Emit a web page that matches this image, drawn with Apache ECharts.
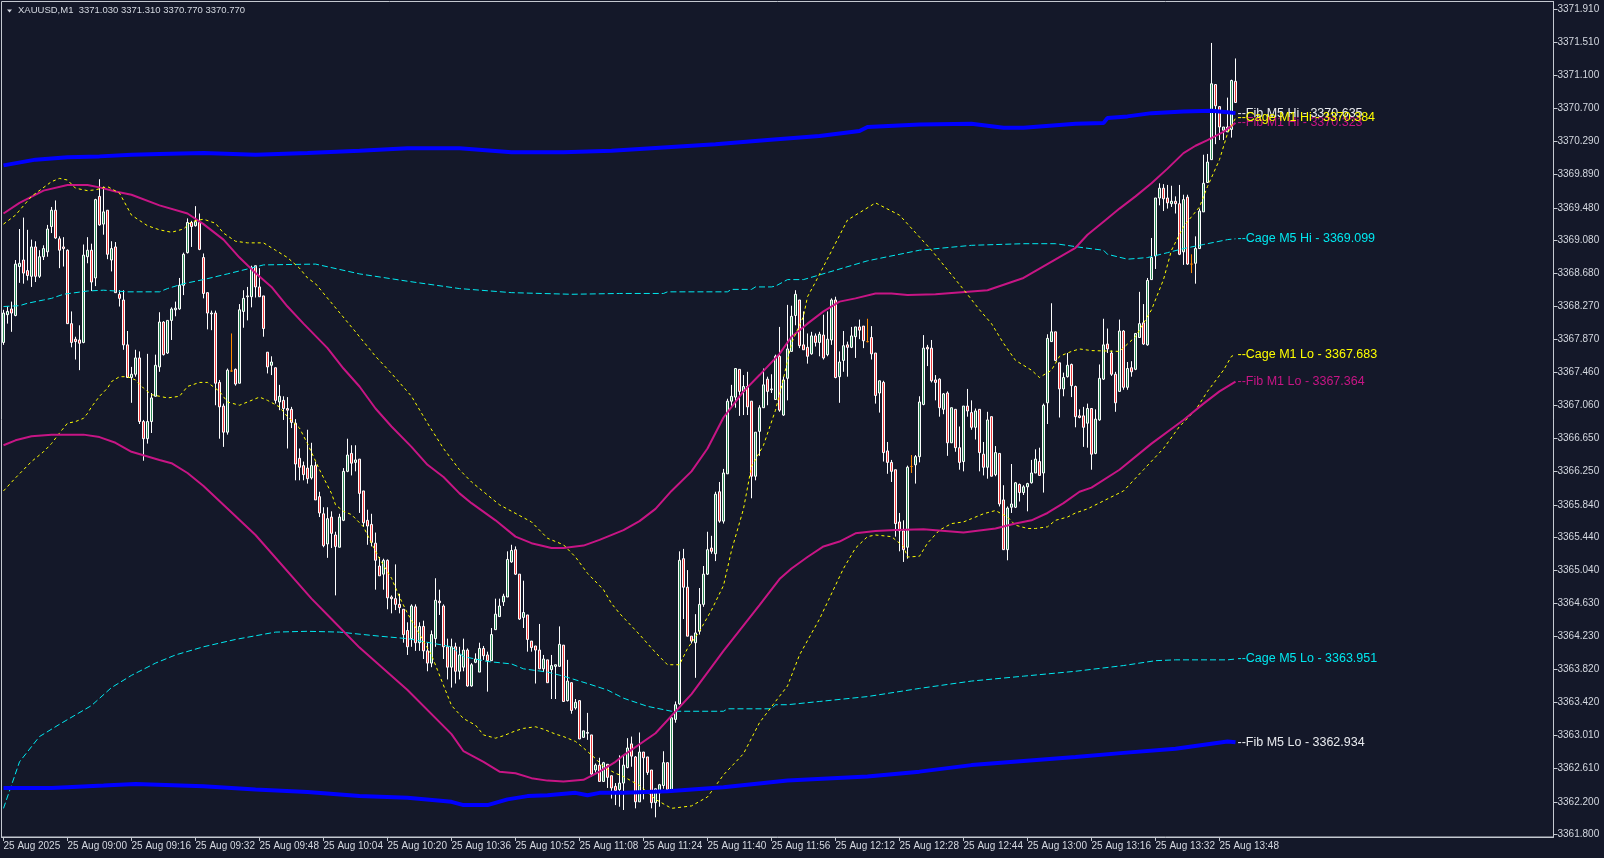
<!DOCTYPE html>
<html><head><meta charset="utf-8">
<script src="https://cdn.jsdelivr.net/npm/echarts@6/dist/echarts.min.js"></script>
<style>html,body{margin:0;padding:0;background:#141829;}#c{width:1604px;height:858px;}</style>
</head><body><div id="c"></div><script>
const FONT = '"Liberation Sans", Arial, sans-serif';
const BG = '#141829';
const FRAME = '#c4c8d0';
const TEXT = '#d4d8e0';
const BULL = '#2e8b57';
const BEAR = '#f03c3c';
const DOJI = '#ff8c00';

const titleText = 'XAUUSD,M1  3371.030 3371.310 3370.770 3370.770';
const slotCount = 388;
const xTickEvery = 16;
const xTickLabels = ['25 Aug 2025','25 Aug 09:00','25 Aug 09:16','25 Aug 09:32','25 Aug 09:48','25 Aug 10:04','25 Aug 10:20','25 Aug 10:36','25 Aug 10:52','25 Aug 11:08','25 Aug 11:24','25 Aug 11:40','25 Aug 11:56','25 Aug 12:12','25 Aug 12:28','25 Aug 12:44','25 Aug 13:00','25 Aug 13:16','25 Aug 13:32','25 Aug 13:48'];
const yTickLabels = ['3371.910','3371.510','3371.100','3370.700','3370.290','3369.890','3369.480','3369.080','3368.680','3368.270','3367.870','3367.460','3367.060','3366.650','3366.250','3365.840','3365.440','3365.040','3364.630','3364.230','3363.820','3363.420','3363.010','3362.610','3362.200','3361.800'];
const yMin = 3361.769, yMax = 3372.008;

const openP = [
3367.83,3368.17,3368.24,3368.16,3368.76,3368.84,3368.71,3368.64,3369.00,3368.64,
3368.88,3368.94,3369.25,3369.45,3369.10,3369.00,3368.96,3368.06,3367.87,3367.86,
3367.83,3368.88,3368.96,3368.62,3369.62,3369.28,3369.45,3368.84,3369.00,3368.42,
3368.35,3367.80,3367.40,3367.44,3367.64,3366.86,3366.65,3366.86,3367.17,3367.53,
3368.08,3367.70,3368.10,3368.23,3368.24,3368.53,3368.93,3369.30,3369.26,3369.30,
3368.87,3368.44,3368.18,3368.19,3367.34,3367.05,3366.73,3367.48,3367.50,3367.33,
3368.21,3368.39,3368.39,3368.77,3368.51,3368.40,3367.71,3367.55,3367.52,3367.10,
3367.12,3367.02,3367.01,3366.84,3366.41,3366.32,3366.29,3366.17,3366.32,3365.94,
3365.73,3365.36,3365.69,3365.47,3365.32,3365.65,3366.25,3366.47,3366.36,3366.40,
3366.01,3365.65,3365.60,3365.37,3365.09,3364.99,3365.16,3364.71,3364.69,3364.62,
3364.56,3364.30,3364.20,3364.59,3364.15,3364.35,3364.05,3363.90,3364.20,3364.66,
3364.60,3364.10,3363.85,3364.10,3363.80,3363.85,3364.06,3363.62,3363.91,3363.79,
3364.08,3364.00,3363.93,3364.31,3364.47,3364.65,3364.71,3365.14,3365.29,3364.99,
3364.46,3364.49,3364.17,3364.11,3364.06,3363.83,3363.94,3363.82,3363.86,3363.86,
3364.12,3363.44,3363.66,3363.35,3363.44,3362.99,3363.04,3363.02,3362.59,3362.65,
3362.45,3362.66,3362.52,3362.39,3362.35,3362.43,3362.62,3362.91,3362.75,3362.20,
3362.81,3362.75,3362.59,3362.19,3362.31,3362.40,3362.68,3362.35,3363.21,3363.40,
3365.18,3364.83,3364.23,3364.15,3364.29,3364.62,3364.99,3365.31,3365.24,3366.00,
3365.64,3366.22,3367.11,3367.16,3367.50,3367.23,3367.29,3367.11,3366.19,3366.74,
3367.03,3367.38,3367.25,3367.13,3367.66,3366.94,3367.39,3367.72,3368.16,3368.35,
3367.80,3367.77,3367.69,3367.91,3367.83,3367.92,3367.68,3367.86,3368.35,3367.41,
3367.61,3367.80,3367.77,3367.90,3368.02,3368.03,3367.84,3367.89,3367.70,3367.21,
3367.34,3366.50,3366.36,3366.27,3365.63,3365.52,3365.32,3366.31,3366.33,3366.43,
3367.07,3367.77,3367.76,3367.37,3367.38,3367.01,3367.21,3366.60,3367.01,3366.54,
3366.37,3367.05,3366.97,3366.79,3367.01,3366.46,3366.30,3366.92,3366.21,3366.47,
3365.90,3365.29,3365.81,3365.81,3366.09,3365.99,3366.06,3366.11,3366.23,3366.37,
3366.23,3367.09,3367.84,3367.96,3367.58,3367.26,3367.41,3367.56,3367.29,3366.93,
3366.93,3366.84,3367.02,3366.47,3366.88,3367.38,3367.81,3367.70,3367.44,3367.23,
3367.97,3367.28,3367.52,3367.50,3367.89,3368.07,3367.80,3368.60,3368.89,3369.60,
3369.72,3369.60,3369.53,3369.56,3369.53,3368.94,3369.61,3368.79,3368.80,3368.98,
3369.43,3369.79,3370.07,3370.99,3370.72,3370.43,3370.41,3370.44,3371.03];

const highP = [
3368.23,3368.27,3368.33,3368.84,3369.22,3369.36,3369.21,3369.09,3369.07,3368.96,
3369.02,3369.27,3369.49,3369.57,3369.13,3369.12,3368.97,3368.21,3367.90,3368.04,
3369.03,3369.12,3369.04,3369.59,3369.83,3369.74,3369.45,3369.07,3369.06,3368.47,
3368.47,3367.97,3367.53,3367.74,3367.72,3366.88,3367.69,3367.21,3367.68,3368.20,
3368.09,3368.10,3368.26,3368.33,3368.62,3368.93,3369.35,3369.32,3369.50,3369.41,
3368.92,3368.44,3368.22,3368.22,3367.37,3367.08,3367.51,3367.94,3367.51,3368.30,
3368.47,3368.51,3368.77,3368.77,3368.74,3368.40,3367.71,3367.66,3367.52,3367.31,
3367.17,3367.16,3367.04,3366.89,3366.53,3366.37,3366.76,3366.60,3366.37,3366.00,
3365.81,3365.81,3365.76,3365.51,3365.73,3366.29,3366.65,3366.57,3366.57,3366.40,
3366.01,3365.78,3365.73,3365.50,3365.20,3365.18,3365.17,3364.73,3365.11,3364.75,
3364.56,3364.40,3364.62,3364.62,3364.40,3364.42,3364.15,3364.30,3364.94,3364.80,
3364.62,3364.20,3364.20,3364.15,3364.10,3364.20,3364.08,3363.90,3364.02,3364.15,
3364.11,3364.04,3364.33,3364.69,3364.69,3364.75,3365.27,3365.35,3365.33,3364.99,
3364.91,3364.49,3364.17,3364.11,3364.38,3364.00,3363.94,3364.00,3363.88,3364.35,
3364.12,3363.94,3363.66,3363.46,3363.44,3363.07,3363.29,3363.02,3362.67,3362.74,
3362.69,3362.66,3362.52,3362.43,3362.77,3362.77,3362.98,3363.00,3362.76,3363.05,
3362.81,3362.75,3362.59,3362.36,3362.42,3362.82,3362.68,3363.25,3363.43,3365.27,
3365.30,3365.04,3364.23,3364.50,3364.82,3365.09,3365.51,3365.46,3366.00,3366.12,
3366.28,3367.14,3367.31,3367.51,3367.50,3367.43,3367.47,3367.11,3366.73,3367.06,
3367.51,3367.41,3367.44,3367.68,3368.02,3367.41,3368.29,3368.28,3368.47,3368.35,
3368.21,3367.94,3367.96,3367.94,3367.96,3368.17,3368.21,3368.37,3368.39,3367.72,
3367.97,3367.84,3368.02,3368.02,3368.11,3368.03,3368.12,3368.03,3367.70,3367.36,
3367.36,3366.61,3366.39,3366.27,3365.74,3365.65,3366.32,3366.45,3366.45,3367.17,
3367.92,3367.80,3367.86,3367.43,3367.39,3367.21,3367.23,3367.03,3367.01,3366.80,
3367.05,3367.26,3367.12,3367.02,3367.01,3366.61,3366.98,3366.92,3366.56,3366.47,
3366.08,3365.82,3366.34,3366.12,3366.10,3366.08,3366.11,3366.39,3366.52,3366.54,
3367.08,3367.93,3368.31,3367.96,3367.58,3367.46,3367.70,3367.57,3367.30,3367.01,
3367.04,3367.08,3367.02,3367.01,3367.56,3368.12,3368.00,3367.73,3367.47,3368.11,
3367.98,3367.59,3367.60,3367.94,3368.45,3368.30,3368.62,3369.11,3369.60,3369.78,
3369.77,3369.76,3369.75,3369.62,3369.76,3369.64,3369.64,3368.91,3369.13,3369.47,
3370.13,3370.14,3371.50,3370.99,3370.72,3370.47,3370.83,3371.05,3371.31];

const lowP = [
3367.80,3368.06,3367.96,3368.15,3368.56,3368.55,3368.59,3368.51,3368.57,3368.62,
3368.84,3368.88,3369.17,3369.10,3368.74,3368.76,3368.06,3367.77,3367.62,3367.49,
3367.82,3368.80,3368.46,3368.52,3369.26,3369.15,3368.85,3368.70,3368.44,3368.27,
3367.74,3367.40,3367.09,3367.41,3366.83,3366.38,3366.59,3366.72,3367.17,3367.47,
3367.67,3367.69,3367.86,3368.15,3368.23,3368.41,3368.92,3369.00,3369.25,3368.96,
3368.37,3367.99,3367.98,3367.06,3366.65,3366.55,3366.70,3367.47,3367.30,3367.33,
3368.01,3368.10,3368.26,3368.38,3368.39,3367.90,3367.45,3367.43,3367.08,3367.00,
3366.88,3366.53,3366.78,3366.14,3366.14,3366.14,3366.10,3366.15,3365.90,3365.69,
3365.32,3365.19,3365.31,3364.73,3365.32,3365.64,3366.24,3366.20,3366.25,3365.74,
3365.57,3365.35,3365.33,3364.80,3364.97,3364.80,3364.56,3364.51,3364.55,3364.51,
3364.15,3364.00,3364.10,3364.05,3364.05,3363.95,3363.80,3363.85,3364.10,3364.49,
3363.95,3363.70,3363.60,3363.65,3363.70,3363.80,3363.61,3363.61,3363.90,3363.79,
3363.94,3363.55,3363.93,3364.31,3364.47,3364.60,3364.71,3365.13,3364.98,3364.43,
3364.33,3364.04,3364.04,3363.65,3363.83,3363.79,3363.66,3363.46,3363.46,3363.86,
3363.43,3363.43,3363.28,3363.33,3362.97,3362.99,3362.96,3362.51,3362.56,3362.45,
3362.45,3362.37,3362.24,3362.16,3362.14,3362.10,3362.61,3362.63,3362.12,3362.20,
3362.23,3362.53,3362.12,3362.01,3362.14,3362.36,3362.32,3362.35,3363.17,3363.39,
3364.44,3364.23,3364.14,3363.72,3364.25,3364.59,3364.98,3365.24,3365.15,3365.62,
3365.61,3366.22,3367.04,3367.03,3366.93,3366.94,3366.94,3365.92,3366.14,3366.44,
3367.03,3367.06,3367.21,3367.13,3366.98,3366.93,3367.12,3367.72,3368.04,3367.76,
3367.74,3367.57,3367.68,3367.78,3367.66,3367.62,3367.66,3367.80,3367.39,3367.09,
3367.47,3367.41,3367.76,3367.64,3367.87,3367.76,3367.83,3367.62,3367.08,3366.97,
3366.37,3366.22,3366.12,3365.45,3365.27,3365.14,3365.18,3366.23,3366.10,3366.36,
3367.06,3367.54,3367.34,3367.12,3366.92,3366.95,3366.44,3366.60,3366.49,3366.27,
3366.25,3366.92,3366.76,3366.64,3366.25,3366.20,3366.16,3366.19,3366.19,3365.82,
3365.29,3365.16,3365.74,3365.80,3365.88,3365.96,3365.76,3366.10,3366.23,3366.20,
3365.99,3366.83,3367.84,3367.60,3366.91,3367.17,3367.40,3367.16,3366.79,3366.90,
3366.55,3366.54,3366.27,3366.46,3366.87,3367.37,3367.70,3367.42,3366.98,3367.23,
3367.25,3367.25,3367.41,3367.49,3367.89,3367.80,3367.79,3368.60,3368.73,3369.51,
3369.44,3369.47,3369.49,3369.41,3368.90,3368.78,3368.78,3368.68,3368.55,3368.98,
3369.43,3369.79,3370.07,3370.26,3370.31,3370.31,3370.41,3370.34,3370.77];

const closeP = [
3368.19,3368.21,3368.19,3368.79,3368.80,3368.68,3368.65,3369.00,3368.64,3368.88,
3368.98,3369.22,3369.45,3369.11,3368.96,3368.98,3368.06,3367.83,3367.84,3367.82,
3368.90,3368.96,3368.57,3369.58,3369.27,3369.43,3368.91,3368.98,3368.44,3368.37,
3367.80,3367.40,3367.44,3367.64,3366.86,3366.65,3366.86,3367.15,3367.55,3368.08,
3367.68,3368.10,3368.24,3368.25,3368.53,3368.91,3369.30,3369.25,3369.31,3368.97,
3368.43,3368.19,3368.19,3367.33,3367.04,3366.73,3367.49,3367.48,3367.32,3368.23,
3368.37,3368.40,3368.75,3368.51,3368.39,3368.00,3367.53,3367.59,3367.12,3367.17,
3367.02,3367.00,3366.85,3366.34,3366.30,3366.21,3366.16,3366.32,3365.90,3365.74,
3365.34,3365.67,3365.49,3365.33,3365.69,3366.25,3366.45,3366.35,3366.39,3365.98,
3365.62,3365.58,3365.38,3365.16,3364.97,3365.16,3364.70,3364.69,3364.62,3364.58,
3364.25,3364.10,3364.60,3364.15,3364.35,3364.05,3363.90,3364.25,3364.67,3364.64,
3364.10,3363.85,3364.10,3363.80,3364.00,3364.06,3363.62,3363.88,3363.95,3364.08,
3363.99,3363.93,3364.25,3364.50,3364.60,3364.72,3365.17,3365.28,3364.99,3364.44,
3364.52,3364.19,3364.09,3364.06,3363.83,3363.95,3363.66,3363.87,3363.88,3364.13,
3363.43,3363.68,3363.32,3363.42,3362.97,3363.07,3363.05,3362.54,3362.65,3362.45,
3362.68,3362.50,3362.37,3362.34,3362.43,3362.65,3362.86,3362.76,3362.20,3362.81,
3362.74,3362.56,3362.19,3362.36,3362.41,3362.68,3362.35,3363.23,3363.39,3365.16,
3364.83,3364.23,3364.17,3364.27,3364.62,3364.99,3365.29,3365.27,3365.97,3365.64,
3366.23,3367.11,3367.17,3367.51,3367.23,3367.29,3367.04,3366.19,3366.73,3367.03,
3367.31,3367.23,3367.26,3367.66,3367.00,3367.37,3367.75,3368.15,3368.42,3367.79,
3367.74,3367.66,3367.91,3367.83,3367.93,3367.64,3367.87,3368.35,3367.40,3367.59,
3367.79,3367.77,3367.91,3368.02,3367.98,3367.85,3367.84,3367.69,3367.18,3367.36,
3366.48,3366.36,3366.25,3365.61,3365.52,3365.29,3366.30,3366.31,3366.43,3367.10,
3367.76,3367.75,3367.36,3367.34,3367.03,3367.20,3366.60,3367.03,3366.54,3366.36,
3367.05,3366.99,3366.79,3366.99,3366.48,3366.30,3366.88,3366.19,3366.48,3365.85,
3365.29,3365.80,3365.85,3366.11,3365.99,3366.06,3366.10,3366.23,3366.40,3366.20,
3367.06,3367.88,3367.96,3367.61,3367.26,3367.40,3367.55,3367.30,3366.92,3366.91,
3366.79,3367.02,3366.46,3366.89,3367.39,3367.80,3367.75,3367.44,3367.09,3367.97,
3367.28,3367.51,3367.47,3367.94,3368.06,3367.81,3368.59,3368.87,3369.60,3369.72,
3369.59,3369.54,3369.56,3369.53,3368.91,3369.58,3368.79,3368.79,3368.98,3369.44,
3369.78,3370.04,3371.00,3370.73,3370.47,3370.47,3370.47,3371.04,3370.77];

const dojiIdx = [57, 216, 227, 297];

// indicator lines: [candle index, price]
const fibM5Hi = [[0,3370.00],[8,3370.07],[16,3370.10],[24,3370.11],[32,3370.13],[39,3370.14],[50,3370.15],[63,3370.13],[76,3370.15],[89,3370.18],[101,3370.21],[114,3370.21],[127,3370.16],[140,3370.16],[152,3370.18],[165,3370.22],[178,3370.26],[191,3370.31],[204,3370.36],[214,3370.42],[216,3370.47],[229,3370.50],[242,3370.51],[250,3370.46],[255,3370.46],[268,3370.51],[275,3370.52],[276,3370.58],[281,3370.60],[287,3370.64],[295,3370.66],[302,3370.67],[306,3370.65],[308,3370.64]];
const fibM5Lo = [[0,3362.37],[12,3362.37],[25,3362.40],[33,3362.42],[50,3362.39],[63,3362.35],[76,3362.32],[89,3362.27],[101,3362.25],[112,3362.20],[115,3362.16],[121,3362.16],[126,3362.23],[131,3362.27],[136,3362.28],[143,3362.31],[146,3362.28],[149,3362.31],[155,3362.31],[166,3362.33],[180,3362.38],[196,3362.46],[216,3362.51],[229,3362.57],[242,3362.65],[255,3362.70],[268,3362.75],[280,3362.80],[293,3362.85],[306,3362.94],[308,3362.93]];
const fibM1Hi = [[0,3369.41],[4,3369.54],[10,3369.69],[16,3369.76],[21,3369.76],[24,3369.73],[28,3369.68],[32,3369.64],[39,3369.51],[46,3369.41],[50,3369.28],[55,3369.09],[59,3368.87],[63,3368.68],[67,3368.51],[71,3368.27],[75,3368.06],[81,3367.76],[85,3367.51],[89,3367.29],[93,3367.02],[97,3366.80],[102,3366.55],[106,3366.33],[110,3366.18],[114,3365.98],[117,3365.86],[123,3365.65],[128,3365.45],[132,3365.37],[137,3365.31],[140,3365.31],[145,3365.34],[149,3365.41],[155,3365.53],[159,3365.64],[163,3365.79],[167,3366.01],[172,3366.25],[176,3366.53],[180,3366.91],[185,3367.23],[189,3367.43],[194,3367.69],[197,3367.90],[201,3368.06],[205,3368.21],[209,3368.33],[213,3368.37],[218,3368.43],[222,3368.43],[226,3368.41],[233,3368.42],[246,3368.47],[255,3368.62],[268,3368.99],[271,3369.15],[275,3369.31],[279,3369.47],[283,3369.62],[287,3369.78],[291,3369.96],[295,3370.15],[298,3370.24],[301,3370.31],[305,3370.41],[308,3370.52]];
const fibM1Lo = [[0,3366.57],[3,3366.63],[7,3366.68],[12,3366.70],[20,3366.70],[24,3366.67],[28,3366.60],[32,3366.49],[39,3366.39],[42,3366.35],[46,3366.23],[50,3366.07],[63,3365.47],[77,3364.69],[82,3364.44],[89,3364.09],[101,3363.57],[112,3363.03],[115,3362.82],[120,3362.69],[124,3362.57],[128,3362.55],[132,3362.49],[136,3362.46],[140,3362.45],[145,3362.47],[149,3362.57],[153,3362.69],[155,3362.77],[163,3363.04],[172,3363.52],[180,3364.05],[189,3364.61],[194,3364.93],[197,3365.06],[201,3365.20],[205,3365.33],[209,3365.39],[213,3365.49],[218,3365.52],[223,3365.53],[230,3365.54],[240,3365.50],[248,3365.55],[253,3365.61],[257,3365.65],[261,3365.74],[265,3365.86],[269,3366.00],[272,3366.05],[279,3366.27],[287,3366.59],[295,3366.88],[300,3367.08],[304,3367.23],[308,3367.35]];
const cageM1Hi = [[0,3369.28],[3,3369.39],[7,3369.62],[12,3369.80],[14,3369.84],[16,3369.82],[18,3369.72],[21,3369.69],[23,3369.70],[26,3369.74],[29,3369.66],[32,3369.39],[36,3369.26],[39,3369.21],[42,3369.18],[45,3369.22],[47,3369.31],[50,3369.34],[53,3369.29],[55,3369.17],[58,3369.07],[61,3369.05],[65,3369.05],[68,3368.96],[71,3368.87],[74,3368.74],[76,3368.62],[78,3368.55],[88,3367.96],[93,3367.66],[97,3367.45],[102,3367.17],[106,3366.84],[110,3366.53],[114,3366.27],[117,3366.12],[124,3365.84],[132,3365.63],[136,3365.43],[140,3365.35],[143,3365.20],[146,3365.00],[150,3364.80],[152,3364.63],[154,3364.51],[159,3364.25],[163,3364.03],[166,3363.88],[169,3363.88],[171,3364.08],[174,3364.29],[177,3364.55],[180,3364.85],[182,3365.28],[185,3365.79],[187,3366.31],[190,3366.57],[193,3367.00],[195,3367.39],[197,3367.82],[200,3368.15],[201,3368.39],[203,3368.57],[211,3369.33],[218,3369.54],[224,3369.39],[232,3368.96],[240,3368.48],[244,3368.23],[247,3368.06],[250,3367.82],[253,3367.61],[257,3367.49],[259,3367.40],[262,3367.49],[264,3367.66],[267,3367.72],[269,3367.75],[272,3367.73],[279,3367.72],[283,3367.90],[287,3368.23],[290,3368.60],[292,3368.96],[295,3369.25],[299,3369.49],[301,3369.74],[304,3370.07],[306,3370.39],[308,3370.58]];
const cageM1Lo = [[0,3366.01],[3,3366.17],[7,3366.37],[10,3366.49],[12,3366.59],[14,3366.72],[16,3366.84],[18,3366.86],[20,3366.90],[21,3366.96],[22,3367.04],[24,3367.17],[26,3367.27],[27,3367.35],[29,3367.41],[31,3367.41],[33,3367.37],[35,3367.27],[37,3367.19],[39,3367.17],[41,3367.15],[44,3367.17],[46,3367.29],[49,3367.34],[51,3367.34],[54,3367.23],[56,3367.10],[59,3367.06],[61,3367.10],[64,3367.16],[66,3367.12],[69,3367.04],[71,3366.92],[74,3366.78],[76,3366.59],[79,3366.27],[82,3365.98],[83,3365.84],[85,3365.76],[87,3365.72],[90,3365.57],[92,3365.37],[94,3365.18],[97,3364.94],[99,3364.71],[101,3364.51],[107,3364.00],[112,3363.38],[115,3363.22],[118,3363.14],[120,3363.02],[123,3362.98],[125,3363.01],[128,3363.07],[130,3363.10],[133,3363.12],[135,3363.09],[138,3363.03],[140,3363.00],[143,3362.94],[145,3362.86],[148,3362.73],[150,3362.63],[153,3362.55],[155,3362.51],[159,3362.40],[163,3362.23],[167,3362.12],[172,3362.15],[176,3362.26],[180,3362.53],[185,3362.79],[189,3363.17],[193,3363.43],[196,3363.62],[199,3364.00],[204,3364.44],[210,3365.06],[213,3365.31],[216,3365.45],[218,3365.47],[222,3365.45],[225,3365.33],[226,3365.20],[229,3365.21],[231,3365.37],[234,3365.53],[237,3365.61],[240,3365.63],[242,3365.67],[245,3365.73],[248,3365.77],[251,3365.69],[253,3365.59],[256,3365.55],[258,3365.55],[261,3365.57],[263,3365.65],[266,3365.69],[268,3365.74],[271,3365.79],[280,3366.01],[285,3366.27],[290,3366.53],[294,3366.80],[298,3367.00],[301,3367.23],[305,3367.49],[307,3367.66],[308,3367.68]];
const cageM5Hi = [[0,3368.27],[4,3368.28],[6,3368.31],[10,3368.35],[12,3368.37],[15,3368.42],[21,3368.46],[25,3368.47],[31,3368.45],[39,3368.45],[41,3368.49],[45,3368.55],[50,3368.60],[56,3368.67],[61,3368.73],[65,3368.78],[78,3368.79],[89,3368.67],[101,3368.58],[114,3368.49],[127,3368.44],[142,3368.42],[154,3368.43],[165,3368.43],[166,3368.45],[181,3368.45],[182,3368.48],[187,3368.48],[188,3368.51],[192,3368.51],[193,3368.52],[196,3368.60],[200,3368.60],[216,3368.83],[229,3368.96],[242,3369.02],[255,3369.04],[263,3369.04],[270,3368.99],[275,3368.96],[276,3368.91],[281,3368.85],[286,3368.87],[291,3368.93],[295,3368.98],[300,3369.03],[306,3369.09],[308,3369.10]];
const cageM5Lo = [[0,3362.12],[4,3362.69],[9,3363.00],[14,3363.15],[22,3363.38],[27,3363.60],[32,3363.75],[38,3363.90],[43,3364.00],[50,3364.10],[58,3364.19],[68,3364.28],[76,3364.29],[84,3364.28],[94,3364.23],[101,3364.20],[112,3364.10],[115,3363.98],[121,3363.92],[127,3363.89],[130,3363.83],[136,3363.79],[140,3363.74],[146,3363.65],[151,3363.57],[155,3363.47],[161,3363.37],[167,3363.31],[180,3363.31],[181,3363.34],[192,3363.34],[193,3363.39],[196,3363.39],[204,3363.43],[216,3363.49],[229,3363.59],[242,3363.68],[255,3363.74],[268,3363.80],[280,3363.87],[288,3363.93],[293,3363.94],[306,3363.94],[308,3363.95]];

const lineLabels = {
  fibM5Hi: '--Fib M5 Hi - 3370.635', fibM5Lo: '--Fib M5 Lo - 3362.934',
  fibM1Hi: '--Fib M1 Hi - 3370.323', fibM1Lo: '--Fib M1 Lo - 3367.364',
  cageM1Hi: '--Cage M1 Hi - 3370.384', cageM1Lo: '--Cage M1 Lo - 3367.683',
  cageM5Hi: '--Cage M5 Hi - 3369.099', cageM5Lo: '--Cage M5 Lo - 3363.951'
};

const categories = Array.from({length: slotCount}, (_, i) => String(i));
const yTickValues = yTickLabels.map(Number);
const tickInterval = (index) => index % xTickEvery === 0 && index / xTickEvery < xTickLabels.length;

const candleData = openP.map((o, i) => {
  const v = [o, closeP[i], lowP[i], highP[i]];
  if (dojiIdx.indexOf(i) >= 0) {
    return { value: v, itemStyle: { color: DOJI, color0: DOJI, borderColor: DOJI, borderColor0: DOJI } };
  }
  return v;
});

function lineSeries(name, data, color, width, type, labelColor, z) {
  return {
    name, type: 'line', data, z, showSymbol: false, symbol: 'none', silent: true,
    lineStyle: { color, width, type },
    endLabel: { show: true, formatter: lineLabels[name], color: labelColor, fontFamily: FONT, fontSize: 12.5, distance: 2 },
    animation: false
  };
}

const CYAN = '#00e8f0', YEL = '#ffff00', MAG = '#c71585', BLUE = '#0000ff', WHITE = '#e8eaee';

const chart = echarts.init(document.getElementById('c'), null, { renderer: 'canvas' });
chart.setOption({
  backgroundColor: BG,
  animation: false,
  textStyle: { fontFamily: FONT },
  graphic: [
    { type: 'polygon', shape: { points: [[7, 9.5], [12, 9.5], [9.5, 12.5]] }, style: { fill: TEXT } },
    { type: 'text', left: 18, top: 5, style: { text: titleText, fill: TEXT, font: '9.5px "Liberation Sans", Arial, sans-serif' } }
  ],
  grid: { left: 1.5, top: 1.5, width: 1552, height: 835.5, show: true, borderColor: FRAME, borderWidth: 1, backgroundColor: 'transparent' },
  xAxis: {
    type: 'category', data: categories, boundaryGap: true,
    axisLine: { show: true, lineStyle: { color: FRAME } },
    axisTick: { show: true, alignWithLabel: true, length: 4, interval: tickInterval, lineStyle: { color: FRAME } },
    axisLabel: { show: true, interval: tickInterval, align: 'left', margin: 4, color: TEXT, fontFamily: FONT, fontSize: 10,
      formatter: (v) => xTickLabels[Number(v) / xTickEvery] },
    splitLine: { show: false }
  },
  yAxis: {
    type: 'value', position: 'right', min: yMin, max: yMax, scale: true,
    axisLine: { show: true, lineStyle: { color: FRAME } },
    axisTick: { show: true, length: 4, customValues: yTickValues, lineStyle: { color: FRAME } },
    axisLabel: { show: true, customValues: yTickValues, formatter: (v) => Number(v).toFixed(3), margin: 4, color: TEXT, fontFamily: FONT, fontSize: 10 },
    splitLine: { show: false }
  },
  series: [
    { type: 'candlestick', data: candleData, z: 1, barWidth: 2, silent: true,
      itemStyle: { color: BULL, color0: BEAR, borderColor: '#ffffff', borderColor0: '#ffffff', borderWidth: 1 } },
    lineSeries('cageM5Lo', cageM5Lo, CYAN, 1, [6, 3], CYAN, 2),
    lineSeries('cageM5Hi', cageM5Hi, CYAN, 1, [6, 3], CYAN, 2),
    lineSeries('cageM1Lo', cageM1Lo, YEL, 1, [3, 3], YEL, 2),
    lineSeries('fibM1Lo', fibM1Lo, MAG, 2, 'solid', MAG, 2),
    lineSeries('fibM5Lo', fibM5Lo, BLUE, 4, 'solid', WHITE, 3),
    lineSeries('fibM1Hi', fibM1Hi, MAG, 2, 'solid', MAG, 3),
    lineSeries('fibM5Hi', fibM5Hi, BLUE, 4, 'solid', WHITE, 4),
    lineSeries('cageM1Hi', cageM1Hi, YEL, 1, [3, 3], YEL, 5)
  ]
});
</script></body></html>
